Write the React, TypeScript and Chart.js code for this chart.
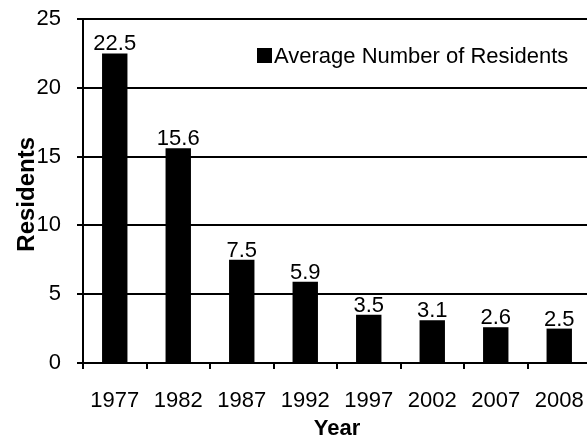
import React, { useEffect, useRef } from "react";
import { Chart, registerables } from "chart.js";

Chart.register(...registerables);

const categories = ["1977", "1982", "1987", "1992", "1997", "2002", "2007", "2008"];
const residents = [22.5, 15.6, 7.5, 5.9, 3.5, 3.1, 2.6, 2.5];
const seriesLabel = "Average Number of Residents";
const yTicks = [0, 5, 10, 15, 20, 25];

const FONT = "'Liberation Sans', Arial, sans-serif";

const valueLabels = {
  id: "valueLabels",
  afterDatasetsDraw(chart: any) {
    const ctx = chart.ctx;
    const meta = chart.getDatasetMeta(0);
    ctx.save();
    ctx.font = `22px ${FONT}`;
    ctx.fillStyle = "#000";
    ctx.textAlign = "center";
    ctx.textBaseline = "alphabetic";
    meta.data.forEach((bar: any, i: number) => {
      ctx.fillText(residents[i].toFixed(1), bar.x, bar.y - 3);
    });
    ctx.restore();
  },
};

const innerLegend = {
  id: "innerLegend",
  afterDraw(chart: any) {
    const ctx = chart.ctx;
    const area = chart.chartArea;
    const bx = area.left + 174;
    const by = area.top + 29;
    ctx.save();
    ctx.fillStyle = "#000";
    ctx.fillRect(bx, by, 15, 15);
    ctx.font = `22px ${FONT}`;
    ctx.textAlign = "left";
    ctx.textBaseline = "alphabetic";
    ctx.fillText(seriesLabel, bx + 17, by + 15);
    ctx.restore();
  },
};

export default function App() {
  const ref = useRef<HTMLCanvasElement | null>(null);
  useEffect(() => {
    document.body.style.margin = "0";
    document.body.style.overflow = "hidden";
    document.documentElement.style.overflow = "hidden";
    const canvas = ref.current!;
    const chart = new Chart(canvas, {
      type: "bar",
      data: {
        labels: categories,
        datasets: [
          {
            label: seriesLabel,
            data: residents,
            backgroundColor: "#000",
            borderWidth: 0,
            barPercentage: 0.4,
            categoryPercentage: 1,
          },
        ],
      },
      options: {
        animation: false,
        responsive: false,
        devicePixelRatio: 1,
        layout: { padding: { top: 19, right: 9, left: 0, bottom: 0 } },
        plugins: {
          legend: { display: false },
          tooltip: { enabled: false },
        },
        scales: {
          x: {
            grid: {
              drawOnChartArea: false,
              drawTicks: true,
              tickLength: 6,
              color: "#000",
              lineWidth: 2,
              offset: true,
            },
            border: { color: "#000", width: 2 },
            ticks: {
              color: "#000",
              font: { family: FONT, size: 22 },
              padding: 19,
              maxRotation: 0,
              autoSkip: false,
            },
            title: {
              display: true,
              text: "Year",
              color: "#000",
              font: { family: FONT, size: 22, weight: "bold" },
              padding: { top: 0, bottom: -5 },
            },
            afterFit(scale: any) {
              scale.height = 74;
              scale.paddingLeft = 0;
              scale.paddingRight = 0;
            },
          },
          y: {
            min: 0,
            max: 25,
            afterBuildTicks(scale: any) {
              scale.ticks = yTicks.map((v) => ({ value: v }));
            },
            grid: {
              color: "#000",
              lineWidth: 2,
              tickLength: 6,
              drawTicks: true,
            },
            border: { color: "#000", width: 2 },
            ticks: {
              color: "#000",
              font: { family: FONT, size: 22 },
              padding: 16,
            },
            title: {
              display: true,
              text: "Residents ",
              color: "#000",
              font: { family: FONT, size: 24, weight: "bold" },
              padding: { top: 13, bottom: 0 },
            },
            afterFit(scale: any) {
              scale.width = 83;
              scale.paddingTop = 0;
              scale.paddingBottom = 0;
            },
          },
        },
      },
      plugins: [valueLabels, innerLegend],
    } as any);
    return () => chart.destroy();
  }, []);
  return (
    <div style={{ position: "absolute", left: 0, top: 0, width: 600, height: 437 }}>
      <canvas ref={ref} width={600} height={437} style={{ width: 600, height: 437 }} />
    </div>
  );
}
